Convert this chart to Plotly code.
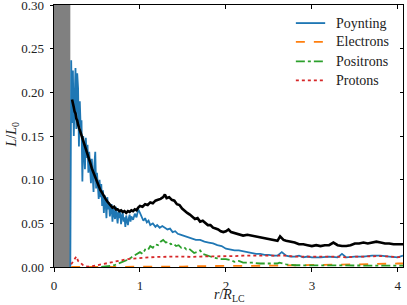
import plotly.graph_objects as go

# ---------------- data ----------------
poy_x = [0.19, 0.20, 0.21, 0.22, 0.23, 0.24, 0.25, 0.26, 0.27, 0.28, 0.29, 0.30, 0.31, 0.32, 0.33, 0.34,
         0.35, 0.36, 0.37, 0.38, 0.39, 0.40, 0.41, 0.42, 0.43, 0.44, 0.45, 0.46, 0.47, 0.48, 0.49, 0.50,
         0.51, 0.52, 0.53, 0.54, 0.55, 0.56, 0.57, 0.58, 0.59, 0.60, 0.61, 0.62, 0.63, 0.64, 0.65, 0.66,
         0.67, 0.68, 0.69, 0.70, 0.71, 0.72, 0.73, 0.74, 0.75, 0.76, 0.77, 0.78, 0.79, 0.80, 0.81, 0.82,
         0.83, 0.84, 0.85, 0.86, 0.87, 0.88, 0.89, 0.90, 0.92, 0.94, 0.96, 0.98, 1.00, 1.02, 1.04, 1.06,
         1.08, 1.10, 1.12, 1.15, 1.18, 1.20, 1.23, 1.26, 1.29, 1.32, 1.35, 1.38, 1.41, 1.44, 1.47, 1.50,
         1.55, 1.60, 1.65, 1.70, 1.75, 1.80, 1.85, 1.90, 1.95, 2.00, 2.05, 2.10, 2.15, 2.20, 2.25, 2.30,
         2.35, 2.40, 2.45, 2.50, 2.55, 2.60, 2.65, 2.70, 2.75, 2.80, 2.85, 2.90, 2.95, 3.00, 3.10, 3.20,
         3.30, 3.35, 3.40, 3.50, 3.60, 3.70, 3.80, 3.90, 4.00, 4.06]
poy_y = [0.0, 0.237, 0.165, 0.225, 0.150, 0.200, 0.228, 0.158, 0.222, 0.205, 0.138, 0.190, 0.160, 0.168, 0.098, 0.150,
         0.130, 0.112, 0.148, 0.125, 0.140, 0.108, 0.132, 0.118, 0.096, 0.124, 0.100, 0.086, 0.118, 0.132, 0.090, 0.108,
         0.094, 0.078, 0.100, 0.080, 0.095, 0.070, 0.088, 0.062, 0.082, 0.075, 0.056, 0.080, 0.066, 0.074, 0.058, 0.063,
         0.072, 0.052, 0.068, 0.060, 0.055, 0.069, 0.058, 0.050, 0.063, 0.056, 0.064, 0.049, 0.058, 0.062, 0.052, 0.057,
         0.046, 0.059, 0.053, 0.048, 0.056, 0.060, 0.052, 0.058, 0.054, 0.061, 0.057, 0.066, 0.062, 0.058, 0.053, 0.056,
         0.051, 0.053, 0.048, 0.050, 0.046, 0.048, 0.045, 0.047, 0.045, 0.043, 0.044, 0.040, 0.041, 0.038, 0.037, 0.036,
         0.034, 0.033, 0.031, 0.031, 0.029, 0.028, 0.027, 0.025, 0.024, 0.021, 0.020, 0.019, 0.019, 0.018, 0.017, 0.016,
         0.015, 0.015, 0.014, 0.014, 0.013, 0.013, 0.017, 0.013, 0.012, 0.012, 0.013, 0.011, 0.012, 0.011, 0.011, 0.012,
         0.011, 0.015, 0.011, 0.012, 0.012, 0.013, 0.013, 0.012, 0.011, 0.013]

tot_x = [0.21, 0.22, 0.23, 0.24, 0.25, 0.26, 0.27, 0.28, 0.29, 0.30, 0.32, 0.34, 0.36, 0.38, 0.40, 0.42,
         0.44, 0.46, 0.48, 0.50, 0.52, 0.54, 0.56, 0.58, 0.60, 0.62, 0.64, 0.66, 0.68, 0.70, 0.72, 0.74,
         0.76, 0.78, 0.80, 0.82, 0.84, 0.86, 0.88, 0.90, 0.92, 0.94, 0.96, 0.98, 1.00, 1.03, 1.06, 1.09,
         1.12, 1.15, 1.18, 1.21, 1.24, 1.27, 1.29, 1.31, 1.34, 1.37, 1.40, 1.43, 1.46, 1.49, 1.52, 1.55,
         1.58, 1.61, 1.64, 1.67, 1.70, 1.73, 1.76, 1.79, 1.82, 1.85, 1.88, 1.91, 1.94, 1.97, 2.00, 2.03,
         2.06, 2.10, 2.15, 2.20, 2.25, 2.30, 2.35, 2.40, 2.45, 2.50, 2.55, 2.60, 2.63, 2.67, 2.70, 2.75,
         2.80, 2.85, 2.90, 2.95, 3.00, 3.05, 3.10, 3.15, 3.20, 3.25, 3.30, 3.35, 3.40, 3.45, 3.50, 3.55,
         3.60, 3.65, 3.70, 3.75, 3.80, 3.85, 3.90, 3.95, 4.00, 4.06]
tot_y = [0.192, 0.185, 0.183, 0.178, 0.176, 0.170, 0.168, 0.163, 0.160, 0.158, 0.150, 0.146, 0.138, 0.132, 0.126, 0.120,
         0.113, 0.108, 0.102, 0.097, 0.093, 0.088, 0.085, 0.081, 0.078, 0.075, 0.073, 0.071, 0.068, 0.069, 0.066, 0.066,
         0.064, 0.065, 0.063, 0.064, 0.062, 0.064, 0.063, 0.065, 0.064, 0.066, 0.065, 0.068, 0.070, 0.069, 0.072, 0.071,
         0.074, 0.073, 0.076, 0.077, 0.078, 0.080, 0.083, 0.079, 0.080, 0.077, 0.076, 0.072, 0.071, 0.067, 0.064, 0.062,
         0.060, 0.058, 0.055, 0.056, 0.052, 0.053, 0.050, 0.048, 0.048, 0.045, 0.044, 0.043, 0.041, 0.040, 0.041, 0.043,
         0.040, 0.039, 0.038, 0.036, 0.037, 0.036, 0.035, 0.034, 0.033, 0.032, 0.031, 0.030, 0.035, 0.031, 0.030, 0.029,
         0.028, 0.026, 0.026, 0.025, 0.024, 0.025, 0.024, 0.025, 0.025, 0.028, 0.025, 0.024, 0.024, 0.025, 0.027, 0.027,
         0.028, 0.027, 0.028, 0.029, 0.028, 0.027, 0.027, 0.026, 0.026, 0.026]

ele_x = [0.20, 1.00, 1.50, 1.60, 2.00, 2.50, 2.80, 3.00, 3.50, 4.00, 4.06]
ele_y = [0.0, 0.0, 0.0005, 0.001, 0.001, 0.0015, 0.002, 0.0025, 0.003, 0.004, 0.004]

pos_x = [0.55, 0.60, 0.65, 0.70, 0.75, 0.80, 0.85, 0.90, 0.95, 1.00, 1.03, 1.06, 1.09, 1.12, 1.15, 1.18,
         1.21, 1.24, 1.27, 1.30, 1.33, 1.36, 1.39, 1.42, 1.45, 1.48, 1.51, 1.54, 1.57, 1.60, 1.63, 1.66,
         1.70, 1.73, 1.76, 1.80, 1.85, 1.90, 1.95, 2.00, 2.05, 2.10, 2.15, 2.20, 2.30, 2.40, 2.50, 2.60,
         2.62, 2.70, 2.80, 3.00, 3.50, 4.06]
pos_y = [0.0, 0.0005, 0.001, 0.002, 0.004, 0.006, 0.008, 0.011, 0.014, 0.017, 0.015, 0.020, 0.019, 0.024, 0.022, 0.026,
         0.025, 0.029, 0.031, 0.028, 0.029, 0.026, 0.027, 0.024, 0.025, 0.022, 0.023, 0.020, 0.021, 0.019, 0.016, 0.017,
         0.019, 0.015, 0.014, 0.012, 0.011, 0.010, 0.009, 0.009, 0.008, 0.006, 0.007, 0.005, 0.005, 0.004, 0.004, 0.004,
         0.005, 0.003, 0.002, 0.002, 0.0015, 0.0015]

pro_x = [0.20, 0.22, 0.24, 0.26, 0.28, 0.30, 0.32, 0.34, 0.36, 0.40, 0.45, 0.50, 0.55, 0.60, 0.65, 0.70,
         0.75, 0.80, 0.85, 0.90, 0.95, 1.00, 1.10, 1.20, 1.30, 1.40, 1.50, 1.60, 1.70, 1.80, 1.90, 2.00,
         2.10, 2.20, 2.30, 2.40, 2.50, 2.60, 2.70, 2.80, 2.90, 3.00, 3.10, 3.20, 3.30, 3.40, 3.50, 3.60,
         3.70, 3.80, 3.90, 4.00, 4.06]
pro_y = [0.003, 0.006, 0.008, 0.012, 0.007, 0.005, 0.004, 0.002, 0.001, 0.0005, 0.001, 0.002, 0.003, 0.0045, 0.005, 0.006,
         0.007, 0.008, 0.009, 0.0095, 0.010, 0.0105, 0.011, 0.0115, 0.012, 0.012, 0.012, 0.0115, 0.012, 0.012, 0.012, 0.0125,
         0.0125, 0.013, 0.013, 0.0135, 0.013, 0.0135, 0.013, 0.012, 0.012, 0.012, 0.0115, 0.012, 0.012, 0.011, 0.012, 0.012,
         0.0125, 0.0125, 0.012, 0.011, 0.011]

excluded_r = [0.0, 0.19]
x_ticks = [0, 1, 2, 3, 4]
y_ticks = [0.00, 0.05, 0.10, 0.15, 0.20, 0.25, 0.30]
y_tick_text = ["0.00", "0.05", "0.10", "0.15", "0.20", "0.25", "0.30"]

legend_names = ["Poynting", "Electrons", "Positrons", "Protons"]
legend_colors = ["#1f77b4", "#ff7f0e", "#2ca02c", "#d62728"]
legend_dashes = ["solid", "dash", "dashdot", "dot"]

FONT = "Liberation Serif"
TXT = "#222"
Y_RANGE = [0, 0.3002]
X_RANGE = [0, 4.06]

fig = go.Figure()
fig.add_trace(go.Scatter(x=poy_x, y=poy_y, mode="lines", name="Poynting",
                         line=dict(color=legend_colors[0], width=1.8)))
fig.add_trace(go.Scatter(x=tot_x, y=tot_y, mode="lines", line=dict(color="black", width=2.6),
                         name="Total"))
fig.add_trace(go.Scatter(x=ele_x, y=ele_y, mode="lines", name="Electrons",
                         line=dict(color=legend_colors[1], width=1.8, dash="dash")))
fig.add_trace(go.Scatter(x=pos_x, y=pos_y, mode="lines", name="Positrons",
                         line=dict(color=legend_colors[2], width=1.8, dash="dashdot")))
fig.add_trace(go.Scatter(x=pro_x, y=pro_y, mode="lines", name="Protons",
                         line=dict(color=legend_colors[3], width=1.8, dash="dot")))

fig.add_shape(type="rect", xref="x", yref="paper", x0=excluded_r[0], x1=excluded_r[1], y0=0, y1=1,
              fillcolor="#808080", line=dict(width=0), layer="below")

# legend drawn manually (matplotlib-like compact spacing)
leg_rows = [0.931, 0.859, 0.785, 0.712]
for name, col, dash, yy in zip(legend_names, legend_colors, legend_dashes, leg_rows):
    fig.add_shape(type="line", xref="paper", yref="paper", x0=0.693, x1=0.777, y0=yy, y1=yy,
                  line=dict(color=col, width=1.8, dash=dash))
    fig.add_annotation(xref="paper", yref="paper", x=0.803, y=yy, text=name, showarrow=False,
                       xanchor="left", yanchor="middle", font=dict(family=FONT, size=14, color=TXT))

# axis titles placed like the matplotlib originals
fig.add_annotation(xref="paper", yref="paper", x=0.5, y=-0.145, text="<i>r</i>/<i>R</i><sub>LC</sub>",
                   showarrow=False, xanchor="center", yanchor="bottom", borderpad=0,
                   font=dict(family=FONT, size=14, color=TXT))
fig.add_annotation(xref="paper", yref="paper", x=-0.118, y=0.505, text="<i>L</i>/<i>L</i><sub>0</sub>",
                   showarrow=False, xanchor="center", yanchor="middle", textangle=-90,
                   font=dict(family=FONT, size=14, color=TXT))

axis_common = dict(showgrid=False, zeroline=False, linecolor="black", linewidth=1,
                   tickcolor="black", ticklen=3.5, tickwidth=1, ticklabeloverflow="allow",
                   tickfont=dict(family=FONT, size=13, color=TXT))
fig.update_layout(
    width=407, height=305,
    margin=dict(l=54, r=4, t=5, b=38, autoexpand=False),
    paper_bgcolor="white", plot_bgcolor="white",
    font=dict(family=FONT, size=13, color=TXT),
    showlegend=False,
    xaxis=dict(range=X_RANGE, tickvals=x_ticks, ticks="outside", mirror=True, ticklabelstandoff=3,
               automargin=False, **axis_common),
    yaxis=dict(range=Y_RANGE, tickvals=y_ticks, ticktext=y_tick_text, ticks="outside", mirror=True,
               ticklabelstandoff=3, automargin=False, **axis_common),
    xaxis2=dict(range=X_RANGE, tickvals=x_ticks, ticks="inside", overlaying="x", side="top",
                showticklabels=False, showline=False, showgrid=False, zeroline=False,
                tickcolor="black", ticklen=3.5),
    yaxis2=dict(range=Y_RANGE, tickvals=y_ticks, ticks="inside", overlaying="y", side="right",
                showticklabels=False, showline=False, showgrid=False, zeroline=False,
                tickcolor="black", ticklen=3.5),
)
# carrier trace for the mirrored inside ticks
fig.add_trace(go.Scatter(x=[None], y=[None], xaxis="x2", yaxis="y2", showlegend=False, hoverinfo="skip"))

fig.write_html("out.html", config={"displayModeBar": False},
               post_script="document.body.style.margin='0';")
